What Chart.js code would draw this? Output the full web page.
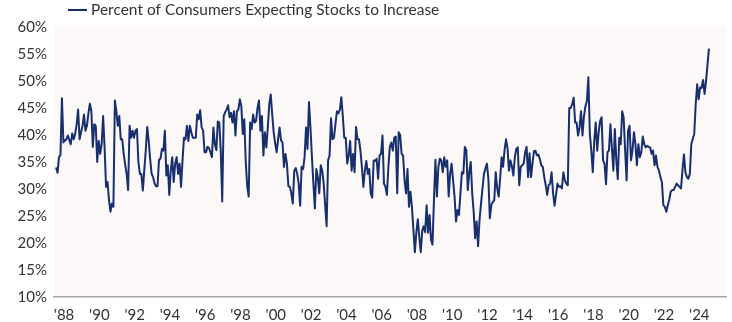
<!DOCTYPE html>
<html lang="en">
<head>
    <meta charset="UTF-8">
    <script src="https://cdn.jsdelivr.net/npm/chart.js"></script>
    <title>Percent of Consumers Expecting Stocks to Increase</title>
    <style>
        html, body { margin: 0; padding: 0; background: #ffffff; }
        #box { width: 732px; height: 322px; }
    </style>
</head>
<body>

    <div id="box">
        <canvas id="graficoAcoes"></canvas>
    </div>

<script>

    // monthly series, Jan 1988 onward
    var serieNome = 'Percent of Consumers Expecting Stocks to Increase';

    var valores = [
        34.0, 33.0, 35.9, 36.3, 46.8, 38.6, 39.0, 39.2, 39.9, 39.1, 38.3, 40.3,
        39.2, 40.2, 42.0, 44.7, 39.2, 40.5, 41.7, 43.8, 40.8, 41.7, 44.0, 45.8,
        44.4, 37.8, 42.0, 41.7, 35.0, 38.9, 36.5, 38.3, 43.5, 37.7, 30.4, 31.3,
        28.0, 25.8, 27.3, 26.7, 46.4, 44.4, 41.7, 43.5, 39.2, 39.2, 36.5, 34.5,
        32.8, 29.8, 41.7, 39.5, 40.8, 39.5, 40.8, 41.1, 35.0, 32.8, 32.8, 29.7,
        33.5, 37.1, 41.5, 38.9, 35.5, 32.8, 32.2, 31.0, 30.5, 30.5, 35.4, 35.6,
        37.4, 37.1, 40.8, 32.5, 34.4, 28.9, 33.4, 35.9, 31.3, 34.7, 35.9, 32.8,
        34.7, 30.4, 35.3, 39.5, 39.2, 41.7, 38.9, 41.7, 40.5, 39.5, 39.5, 39.5,
        43.8, 42.9, 44.6, 41.4, 40.8, 36.8, 36.8, 37.8, 37.6, 36.8, 35.9, 41.4,
        38.3, 37.2, 42.5, 42.3, 37.1, 27.7, 43.5, 44.2, 44.7, 45.5, 43.3, 44.1,
        42.3, 44.4, 39.9, 44.4, 44.7, 46.6, 45.3, 40.2, 42.9, 35.0, 30.5, 28.6,
        42.3, 41.1, 43.8, 42.3, 42.6, 45.0, 46.4, 40.8, 43.5, 36.2, 40.5, 37.7,
        41.4, 45.7, 47.5, 43.8, 40.5, 38.5, 36.8, 39.2, 41.4, 39.0, 38.6, 34.1,
        36.5, 34.7, 30.5, 30.4, 29.2, 27.3, 33.4, 33.9, 32.8, 31.0, 26.9, 34.1,
        33.7, 35.9, 41.4, 37.4, 46.1, 41.4, 36.0, 31.0, 26.4, 33.7, 32.2, 29.2,
        34.4, 33.4, 31.0, 27.0, 23.1, 35.3, 36.2, 43.1, 39.2, 39.5, 42.0, 44.4,
        44.0, 44.7, 47.0, 43.5, 39.5, 39.5, 34.7, 36.2, 38.9, 33.4, 36.5, 33.1,
        41.5, 39.2, 39.2, 37.1, 34.0, 30.4, 33.4, 35.2, 32.8, 33.7, 29.2, 28.4,
        35.3, 35.2, 35.6, 31.9, 36.2, 36.5, 39.9, 31.0, 30.4, 28.9, 34.1, 37.8,
        38.6, 37.1, 39.5, 39.7, 29.2, 40.5, 40.0, 36.5, 36.2, 31.6, 29.2, 33.7,
        26.7, 29.5, 26.7, 22.5, 18.3, 21.9, 24.4, 21.2, 18.3, 22.2, 23.1, 22.0,
        27.0, 21.9, 25.2, 20.6, 19.7, 28.0, 35.4, 28.6, 34.1, 35.6, 35.3, 33.1,
        35.9, 34.1, 35.3, 28.6, 32.8, 34.7, 31.6, 28.6, 24.0, 26.1, 25.2, 29.2,
        33.1, 32.9, 37.8, 37.2, 29.8, 33.1, 35.0, 29.2, 25.8, 20.9, 24.0, 19.4,
        24.3, 27.3, 30.1, 32.8, 33.8, 34.7, 31.9, 24.6, 27.0, 27.6, 27.9, 33.1,
        30.1, 28.6, 31.9, 35.9, 34.1, 37.2, 39.2, 37.6, 33.4, 35.3, 34.2, 32.5,
        35.9, 37.4, 37.7, 30.7, 34.1, 34.4, 34.7, 36.8, 37.8, 32.2, 36.6, 32.2,
        34.7, 37.0, 37.1, 36.2, 36.4, 35.5, 34.4, 34.1, 32.2, 30.7, 28.9, 30.7,
        31.0, 33.1, 29.2, 26.9, 28.9, 31.0, 30.4, 30.5, 30.1, 33.1, 31.6, 31.0,
        30.7, 45.0, 45.0, 45.7, 46.9, 42.3, 42.3, 39.9, 41.4, 44.4, 39.9, 43.5,
        45.3, 46.3, 50.7, 40.2, 37.1, 33.1, 38.9, 42.3, 37.1, 40.5, 42.6, 43.3,
        35.3, 34.7, 30.9, 36.8, 37.1, 42.0, 37.6, 33.4, 41.1, 35.3, 31.8, 39.5,
        38.3, 44.4, 43.2, 37.1, 31.6, 40.8, 41.7, 35.3, 37.1, 40.5, 38.3, 34.4,
        38.3, 35.9, 36.8, 39.7, 38.3, 37.7, 38.0, 37.8, 37.7, 36.5, 37.1, 34.4,
        36.2, 34.1, 33.4, 32.2, 31.3, 27.0, 26.7, 25.8, 27.0, 28.0, 29.5, 29.8,
        29.8, 30.4, 31.0, 30.7, 30.4, 30.1, 33.5, 36.4, 33.1, 32.2, 31.9, 32.8,
        38.3, 39.3, 40.2, 45.7, 49.4, 46.6, 48.8, 48.7, 50.2, 47.6, 49.9, 53.0,
        56.0
    ];

    var rotulosAnos = ["'88", "'90", "'92", "'94", "'96", "'98", "'00", "'02", "'04", "'06",
                       "'08", "'10", "'12", "'14", "'16", "'18", "'20", "'22", "'24"];

    var mesesPorRotulo = 24;

    var corLinha = '#172f6e';
    var corTexto = '#333333';

    // fundo rosado da area do grafico
    const fundoArea = {
        id: 'fundoArea',
        beforeDraw(chart) {
            const a = chart.chartArea;
            const ctx = chart.ctx;
            ctx.save();
            ctx.fillStyle = '#fcf8f7';
            ctx.fillRect(a.left, a.top, a.right - a.left, a.bottom - a.top);
            ctx.restore();
        }
    };

    // legenda no canto de cima, linha + texto
    const legendaLinha = {
        id: 'legendaLinha',
        afterDraw(chart) {
            const ds = chart.data.datasets[0];
            const ctx = chart.ctx;
            ctx.save();
            ctx.strokeStyle = ds.borderColor;
            ctx.lineWidth = 2;
            ctx.beginPath();
            ctx.moveTo(68, 10);
            ctx.lineTo(87, 10);
            ctx.stroke();
            ctx.fillStyle = corTexto;
            ctx.font = '15.5px Lato';
            ctx.textBaseline = 'middle';
            ctx.fillText(ds.label, 91, 10);
            ctx.restore();
        }
    };

    const ctx = document.getElementById('graficoAcoes').getContext('2d');
    const grafico = new Chart(ctx, {
        type: 'line',
        data: {
            datasets: [{
                label: serieNome,
                data: valores.map((v, i) => ({ x: i, y: v })),
                borderColor: corLinha,
                backgroundColor: corLinha,
                borderWidth: 2,
                borderJoinStyle: 'round',
                pointRadius: 0,
                tension: 0
            }]
        },
        options: {
            responsive: true,
            maintainAspectRatio: false,
            animation: false,
            layout: {
                padding: { top: 27, right: 6, bottom: 0, left: 0 }
            },
            plugins: {
                legend: { display: false },
                tooltip: { enabled: false }
            },
            scales: {
                x: {
                    type: 'linear',
                    min: -1.4,
                    max: 455.6,
                    grid: { display: false, drawTicks: false },
                    border: { display: true, color: '#a8a8a8', width: 1.5 },
                    afterBuildTicks: (scale) => {
                        scale.ticks = rotulosAnos.map((r, i) => ({ value: i * mesesPorRotulo }));
                    },
                    afterFit: (scale) => { scale.height = 25; },
                    ticks: {
                        autoSkip: false,
                        maxRotation: 0,
                        padding: 9,
                        labelOffset: 8,
                        color: corTexto,
                        font: { family: 'Lato', size: 15 },
                        callback: (value, index) => rotulosAnos[index]
                    }
                },
                y: {
                    min: 10,
                    max: 60,
                    grid: { display: false, drawTicks: false },
                    border: { display: false },
                    afterFit: (scale) => { scale.width = 54; },
                    ticks: {
                        stepSize: 5,
                        padding: 7,
                        color: corTexto,
                        font: { family: 'Lato', size: 15 },
                        callback: (value) => value + '%'
                    }
                }
            }
        },
        plugins: [fundoArea, legendaLinha]
    });

</script>
</body>
</html>
